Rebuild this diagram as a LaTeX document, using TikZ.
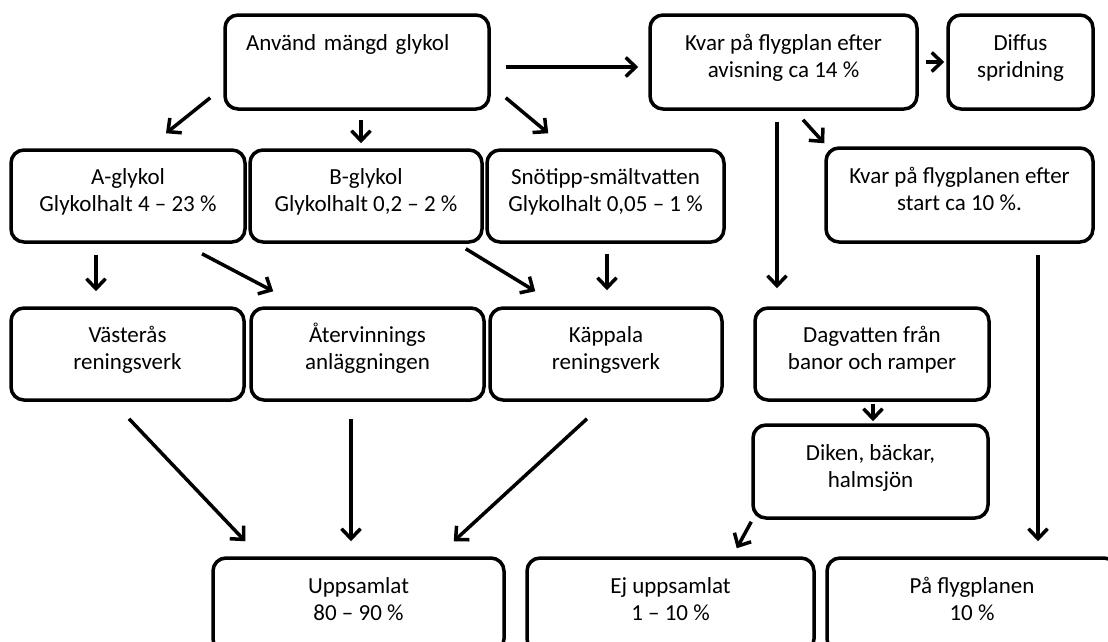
\documentclass[tikz,border=0pt]{standalone}
\usepackage{fontspec}
\setmainfont{Carlito}
\usetikzlibrary{arrows.meta}
\definecolor{Ink}{HTML}{000000}

\begin{document}
\begin{tikzpicture}[x=1pt,y=-1pt,
  box/.style={draw=Ink,line width=3.5pt,rounded corners=13pt,align=center,
    font=\fontsize{23}{27}\selectfont,inner sep=0pt,
    text height=52pt,text depth=21pt},
  arr/.style={draw=Ink,line width=3.5pt,-{Straight Barb[length=10pt,width=19pt]}}]
  \useasboundingbox (0,0) rectangle (1108,641);
  \clip (0,0) rectangle (1108,641);
  % top row
  \node[box,minimum width=264,minimum height=94,align=left,text width=222pt,
    inner xsep=21pt,text height=18pt,text depth=42pt]
    (anv) at (357,62) {Använd mängd glykol};
  \node[box,minimum width=267,minimum height=94] (kvar) at (783.5,62)
    {Kvar på flygplan efter\\avisning ca 14 \%};
  \node[box,minimum width=145,minimum height=94] (diffus) at (1020.5,62)
    {Diffus\\spridning};
  % glycol kinds
  \node[box,minimum width=234,minimum height=92] (aglyk) at (128,196)
    {A-glykol\\Glykolhalt 4 -- 23 \%};
  \node[box,minimum width=232,minimum height=92] (bglyk) at (366,196)
    {B-glykol\\Glykolhalt 0,2 -- 2 \%};
  \node[box,minimum width=237,minimum height=92] (snot) at (605.5,196)
    {Snötipp-smältvatten\\Glykolhalt 0,05 -- 1 \%};
  \node[box,minimum width=267,minimum height=94] (kvarstart) at (959.5,195)
    {Kvar på flygplanen efter\\start ca 10 \%.};
  % treatment
  \node[box,minimum width=233,minimum height=92] (vast) at (127.5,354)
    {Västerås\\reningsverk};
  \node[box,minimum width=233,minimum height=92] (atv) at (367.5,354)
    {Återvinnings\\anläggningen};
  \node[box,minimum width=232,minimum height=92] (kapp) at (606,354)
    {Käppala\\reningsverk};
  \node[box,minimum width=234,minimum height=92] (dag) at (872,354)
    {Dagvatten från\\banor och ramper};
  \node[box,minimum width=235,minimum height=93] (diken) at (870.5,471.5)
    {Diken, bäckar,\\halmsjön};
  % result
  \node[box,minimum width=291,minimum height=94] (upps) at (358.5,605)
    {Uppsamlat\\80 -- 90 \%};
  \node[box,minimum width=287,minimum height=94] (ej) at (670.5,605)
    {Ej uppsamlat\\1 -- 10 \%};
  \node[box,minimum width=290,minimum height=94] (pafl) at (972,605)
    {På flygplanen\\10 \%};
  % arrows
  \draw[arr] ([shift={(-13,-13)}]anv.south west) -- ([shift={(38,-15)}]aglyk.north);
  \draw[arr] ([shift={(4,9)}]anv.south) -- ([shift={(-5,-5)}]bglyk.north);
  \draw[arr] ([shift={(15,-13)}]anv.south east) -- ([shift={(63,-15)}]snot.north west);
  \draw[arr] ([shift={(15,5)}]anv.east) -- ([shift={(-10,5)}]kvar.west);
  \draw[arr] ([shift={(7,0)}]kvar.east) -- ([shift={(-2,0)}]diffus.west);
  \draw[arr] ([shift={(-6.5,11)}]kvar.south) -- ([shift={(-95,-18)}]dag.north);
  \draw[arr] ([shift={(19.5,9)}]kvar.south) -- ([shift={(0,-3)}]kvarstart.north west);
  \draw[arr] ([shift={(-32,11)}]aglyk.south) -- ([shift={(-31.5,-15)}]vast.north);
  \draw[arr] ([shift={(74,10)}]aglyk.south) -- ([shift={(24,-15)}]atv.north west);
  \draw[arr] ([shift={(-18,5)}]bglyk.south east) -- ([shift={(47,-15)}]kapp.north west);
  \draw[arr] ([shift={(1.5,10)}]snot.south) -- ([shift={(1,-16)}]kapp.north);
  \draw[arr] ([shift={(78.5,11)}]kvarstart.south) -- ([shift={(66,-15)}]pafl.north);
  \draw[arr] ([shift={(1,2)}]dag.south) -- ([shift={(2.5,-2)}]diken.north);
  \draw[arr] ([shift={(1.5,17)}]vast.south) -- ([shift={(34,-15)}]upps.north west);
  \draw[arr] ([shift={(-16.5,17)}]atv.south) -- ([shift={(-7.5,-15)}]upps.north);
  \draw[arr] ([shift={(-19,17)}]kapp.south) -- ([shift={(-52,-15)}]upps.north east);
  \draw[arr] ([shift={(0,2)}]diken.south west) -- ([shift={(-79,-8)}]ej.north east);
\end{tikzpicture}
\end{document}
